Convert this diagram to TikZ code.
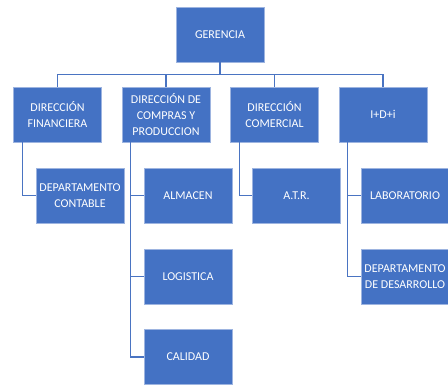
\documentclass[tikz,border=0pt]{standalone}
\usepackage{fontspec}
\setmainfont{Carlito}
\usetikzlibrary{positioning,calc}
\definecolor{caja}{HTML}{4472C4}
\definecolor{borde}{HTML}{9DB4E0}
\definecolor{linea}{HTML}{4A74C2}
\tikzset{
  puesto/.style={draw=borde,line width=0.6pt,fill=caja,text=white,
    minimum width=88pt,minimum height=55pt,inner sep=1pt,align=center,
    font=\fontsize{12}{16}\selectfont},
  enlace/.style={draw=linea,line width=1.3pt}
}

\begin{document}
\begin{tikzpicture}[x=1pt,y=1pt]
\useasboundingbox (0,0) rectangle (448,-385);
% Top level
\node[puesto] (ger) at (220,-34.5) {GERENCIA};

% Directions
\node[puesto] (dfin) at (57.5,-114.5) {DIRECCIÓN\\FINANCIERA};
\node[puesto] (dcp) at (166,-114.5) {DIRECCIÓN DE\\COMPRAS Y\\PRODUCCION};
\node[puesto] (dcom) at (274.5,-114.5) {DIRECCIÓN\\COMERCIAL};
\node[puesto] (idi) at (383,-114.5) {I+D+i};

% Departments
\node[puesto] (cont) at (80,-195.5) {DEPARTAMENTO\\CONTABLE};
\node[puesto] (alm) at (188,-195.5) {ALMACEN};
\node[puesto] (log) at (188,-276.5) {LOGISTICA};
\node[puesto] (cal) at (188,-357) {CALIDAD};
\node[puesto] (atr) at (296.5,-195.5) {A.T.R.};
\node[puesto] (lab) at (405,-195.5) {LABORATORIO};
\node[puesto] (des) at (405,-276.5) {DEPARTAMENTO\\DE DESARROLLO};

% Links from GERENCIA
\foreach \d in {dfin,dcp,dcom,idi}
  \draw[enlace] (ger.south) -- ++(0,-12.5) -| (\d.north);

% Links to departments
\draw[enlace] ([xshift=9pt]dfin.south west) |- (cont.west);
\draw[enlace] ([xshift=9pt]dcp.south west) |- (alm.west);
\draw[enlace] ([xshift=9pt]dcp.south west) |- (log.west);
\draw[enlace] ([xshift=9pt]dcp.south west) |- (cal.west);
\draw[enlace] ([xshift=9pt]dcom.south west) |- (atr.west);
\draw[enlace] ([xshift=9pt]idi.south west) |- (lab.west);
\draw[enlace] ([xshift=9pt]idi.south west) |- (des.west);
\end{tikzpicture}
\end{document}
